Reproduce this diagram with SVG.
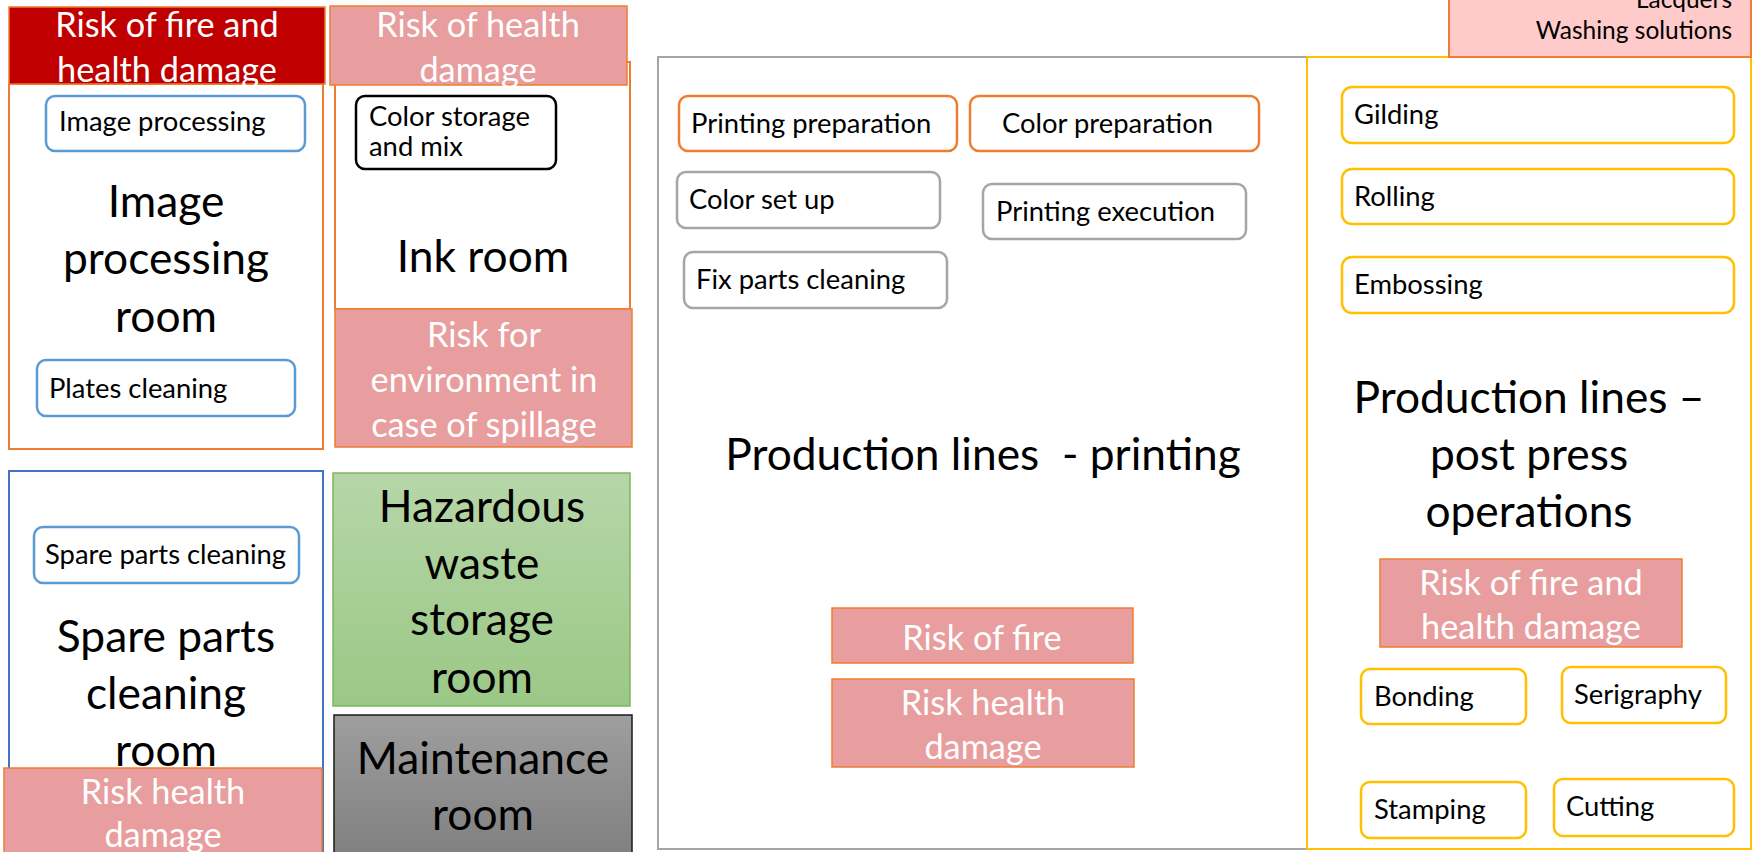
<svg xmlns="http://www.w3.org/2000/svg" width="1752" height="852" viewBox="0 0 1752 852">
<defs>
<linearGradient id="gGreen" x1="0" y1="0" x2="0" y2="1"><stop offset="0" stop-color="#B6D6A8"/><stop offset="1" stop-color="#9BC886"/></linearGradient>
<linearGradient id="gGray" x1="0" y1="0" x2="0" y2="1"><stop offset="0" stop-color="#9E9E9E"/><stop offset="1" stop-color="#7C7C7C"/></linearGradient>
</defs>
<style>
text{font-family:Lato,"Carlito","Liberation Sans",sans-serif;}
.big{font-size:44.3px;fill:#000;text-anchor:middle;}
.risk{font-size:34.3px;fill:#fff;text-anchor:middle;}
.lbl{font-size:27.4px;fill:#000;}
.sm{font-size:24.5px;fill:#000;text-anchor:end;}
.room{fill:#fff;stroke-width:2;}
.riskbox{fill:#E89E9E;stroke:#ED7D31;stroke-width:1.5;}
.task{fill:#fff;stroke-width:2.5;}
.or{stroke:#ED7D31;}
.bl{stroke:#5B9BD5;}
.gr{stroke:#A5A5A5;}
.ye{stroke:#FFC000;}
.bk{stroke:#000;}
</style>
<rect x="0" y="0" width="1752" height="852" fill="#fff"/>

<g id="image-processing-room">
<rect class="room or" x="9" y="84" width="314" height="365"/>
<rect x="9" y="7" width="316" height="77" fill="#C00000" stroke="#ED7D31" stroke-width="1.5"/>
<text class="risk" x="167" y="37">Risk of fire and</text>
<text class="risk" x="167" y="82">health damage</text>
<text class="big" x="166" y="217">Image</text>
<text class="big" x="166" y="274">processing</text>
<text class="big" x="166" y="332">room</text>
</g>
<g id="image-processing">
<rect class="task bl" x="46" y="96" width="259" height="55" rx="9"/>
<text class="lbl" x="59" y="131">Image processing</text>
</g>
<g id="plates-cleaning">
<rect class="task bl" x="37" y="360" width="258" height="56" rx="9"/>
<text class="lbl" x="49" y="398">Plates cleaning</text>
</g>

<g id="ink-room">
<rect class="room or" x="335" y="62" width="295" height="247"/>
<rect class="riskbox" x="330" y="6" width="297" height="79"/>
<text class="risk" x="478" y="37">Risk of health</text>
<text class="risk" x="478" y="82">damage</text>
<text class="big" x="483" y="272">Ink room</text>
<rect class="riskbox" x="335" y="309" width="297" height="138"/>
<text class="risk" x="484" y="347">Risk for</text>
<text class="risk" x="484" y="392">environment in</text>
<text class="risk" x="484" y="437">case of spillage</text>
</g>
<g id="color-storage">
<rect class="task bk" x="356" y="96" width="200" height="73" rx="9"/>
<text class="lbl" x="369" y="126">Color storage</text>
<text class="lbl" x="369" y="156">and mix</text>
</g>

<g id="spare-parts-room">
<rect class="room" stroke="#4472C4" x="9" y="471" width="314" height="400"/>
<text class="big" x="166" y="652">Spare parts</text>
<text class="big" x="166" y="709">cleaning</text>
<text class="big" x="166" y="766">room</text>
<rect class="riskbox" x="4" y="768" width="318" height="100"/>
<text class="risk" x="163" y="804">Risk health</text>
<text class="risk" x="163" y="847">damage</text>
</g>
<g id="spare-parts-cleaning">
<rect class="task bl" x="34" y="527" width="265" height="56" rx="9"/>
<text class="lbl" x="45" y="564">Spare parts cleaning</text>
</g>

<g id="hazardous-waste">
<rect x="333" y="473" width="297" height="233" fill="url(#gGreen)" stroke="#7DB55A" stroke-width="1.5"/>
<text class="big" x="482" y="522">Hazardous</text>
<text class="big" x="482" y="579">waste</text>
<text class="big" x="482" y="635">storage</text>
<text class="big" x="482" y="693">room</text>
</g>

<g id="maintenance-room">
<rect x="334" y="715" width="298" height="160" fill="url(#gGray)" stroke="#1A1A1A" stroke-width="1.5"/>
<text class="big" x="483" y="774">Maintenance</text>
<text class="big" x="483" y="830">room</text>
</g>

<g id="printing-lines">
<rect class="room gr" x="658" y="57" width="649" height="792"/>
<text class="big" x="983" y="470" xml:space="preserve">Production lines  - printing</text>
<rect class="riskbox" x="832" y="608" width="301" height="55"/>
<text class="risk" x="982" y="650">Risk of fire</text>
<rect class="riskbox" x="832" y="679" width="302" height="88"/>
<text class="risk" x="983" y="715">Risk health</text>
<text class="risk" x="983" y="759">damage</text>
</g>
<g id="printing-preparation">
<rect class="task or" x="679" y="96" width="278" height="55" rx="9"/>
<text class="lbl" x="691" y="133">Printing preparation</text>
</g>
<g id="color-preparation">
<rect class="task or" x="970" y="96" width="289" height="55" rx="9"/>
<text class="lbl" x="1002" y="133">Color preparation</text>
</g>
<g id="color-set-up">
<rect class="task gr" x="677" y="172" width="263" height="56" rx="9"/>
<text class="lbl" x="689" y="209">Color set up</text>
</g>
<g id="printing-execution">
<rect class="task gr" x="983" y="184" width="263" height="55" rx="9"/>
<text class="lbl" x="996" y="221">Printing execution</text>
</g>
<g id="fix-parts-cleaning">
<rect class="task gr" x="684" y="252" width="263" height="56" rx="9"/>
<text class="lbl" x="696" y="289">Fix parts cleaning</text>
</g>

<g id="post-press-lines">
<rect class="room ye" x="1307" y="57" width="444" height="792"/>
<text class="big" x="1529" y="413">Production lines –</text>
<text class="big" x="1529" y="470">post press</text>
<text class="big" x="1529" y="527">operations</text>
<rect class="riskbox" x="1380" y="559" width="302" height="88"/>
<text class="risk" x="1531" y="595">Risk of fire and</text>
<text class="risk" x="1531" y="639">health damage</text>
</g>
<g id="chemicals">
<rect x="1449" y="-10" width="302" height="67" fill="#FFCACA" stroke="#ED7D31" stroke-width="2"/>
<text class="sm" x="1732" y="8">Lacquers</text>
<text class="sm" x="1732" y="39">Washing solutions</text>
</g>
<g id="gilding">
<rect class="task ye" x="1342" y="87" width="392" height="56" rx="10"/>
<text class="lbl" x="1354" y="124">Gilding</text>
</g>
<g id="rolling">
<rect class="task ye" x="1342" y="169" width="392" height="55" rx="10"/>
<text class="lbl" x="1354" y="206">Rolling</text>
</g>
<g id="embossing">
<rect class="task ye" x="1342" y="257" width="392" height="56" rx="10"/>
<text class="lbl" x="1354" y="294">Embossing</text>
</g>
<g id="bonding">
<rect class="task ye" x="1361" y="669" width="165" height="55" rx="9"/>
<text class="lbl" x="1374" y="706">Bonding</text>
</g>
<g id="serigraphy">
<rect class="task ye" x="1562" y="667" width="164" height="56" rx="9"/>
<text class="lbl" x="1574" y="704">Serigraphy</text>
</g>
<g id="stamping">
<rect class="task ye" x="1361" y="782" width="165" height="56" rx="9"/>
<text class="lbl" x="1374" y="819">Stamping</text>
</g>
<g id="cutting">
<rect class="task ye" x="1554" y="779" width="180" height="57" rx="9"/>
<text class="lbl" x="1566" y="816">Cutting</text>
</g>
<g id="connectors"></g>
</svg>
